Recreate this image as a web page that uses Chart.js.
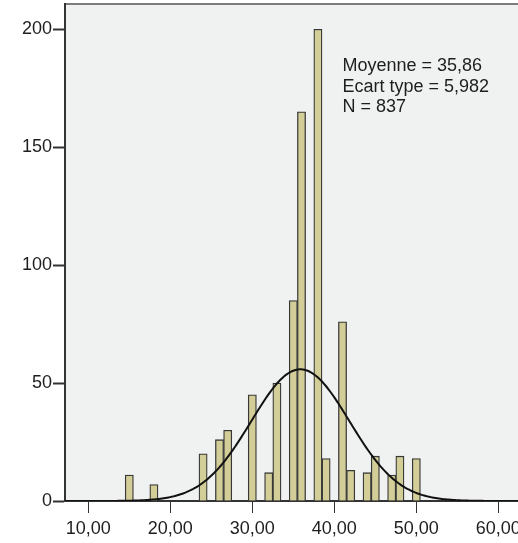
<!DOCTYPE html>
<html>
<head>
<meta charset="utf-8">
<script src="https://cdn.jsdelivr.net/npm/chart.js@4/dist/chart.umd.min.js"></script>
<style>
  html, body { margin: 0; padding: 0; background: #ffffff; }
  #wrap { width: 518px; height: 543px; position: relative; }
</style>
</head>
<body>
<div id="wrap"><canvas id="histo" width="518" height="543"></canvas></div>
<script>
// Histogram classes (centre of each 1-unit class) and their counts
const binCenters  = [15, 18, 24, 26, 27, 30, 32, 33, 35, 36, 38, 39, 41, 42, 44, 45, 47, 48, 50];
const frequencies = [11, 7, 20, 26, 30, 45, 12, 50, 85, 165, 200, 18, 76, 13, 12, 19, 11, 19, 18];

// Axis ticks
const xTicks = [10, 20, 30, 40, 50, 60];
const yTicks = [0, 50, 100, 150, 200];

// Summary statistics shown in the plot and used for the normal curve
const moyenne = 35.86;
const ecartType = 5.982;
const effectif = 837;
const largeurClasse = 1;

const X_MIN = 7.16, X_MAX = 62.4;
const Y_MIN = 0, Y_MAX = 210.7;

const frNum = (v, d) => v.toFixed(d).replace('.', ',');
const statLines = [
  'Moyenne = ' + frNum(moyenne, 2),
  'Ecart type = ' + frNum(ecartType, 3),
  'N = ' + effectif
];

// Normal density scaled to counts, using the stated mean / standard deviation / N
function normalCount(x) {
  const z = (x - moyenne) / ecartType;
  return effectif * largeurClasse / (ecartType * Math.sqrt(2 * Math.PI)) * Math.exp(-0.5 * z * z);
}
const curvePoints = [];
for (let i = 0; i <= 280; i++) {
  const x = X_MIN + (X_MAX - X_MIN) * i / 280;
  curvePoints.push({ x: x, y: normalCount(x) });
}

const FONT = { family: '"Liberation Sans", Arial, sans-serif', size: 18 };
const INK = '#1e1e1e';
const AXIS = '#333333';

// Plot background, top frame line and the statistics box
const plotFrame = {
  id: 'plotFrame',
  beforeDraw(chart) {
    const { ctx, chartArea: a } = chart;
    ctx.save();
    ctx.fillStyle = '#F0F1F1';
    ctx.fillRect(a.left, a.top, a.right - a.left, a.bottom - a.top);
    ctx.strokeStyle = '#7c7c7c';
    ctx.lineWidth = 2;
    ctx.beginPath();
    ctx.moveTo(a.left - 1, a.top);
    ctx.lineTo(a.right, a.top);
    ctx.stroke();
    ctx.restore();
  },
  afterDraw(chart) {
    const { ctx, chartArea: a } = chart;
    ctx.save();
    ctx.fillStyle = INK;
    ctx.font = FONT.size + 'px ' + FONT.family;
    ctx.textAlign = 'left';
    ctx.textBaseline = 'alphabetic';
    const left = a.left + 277.5;
    statLines.forEach((t, i) => ctx.fillText(t, left, a.top + 67 + i * 20.7));
    ctx.restore();
  }
};

new Chart(document.getElementById('histo').getContext('2d'), {
  type: 'bar',
  data: {
    datasets: [
      {
        type: 'line',
        data: curvePoints,
        borderColor: '#111111',
        borderWidth: 2,
        pointRadius: 0,
        tension: 0,
        fill: false,
        order: 0
      },
      {
        type: 'bar',
        data: binCenters.map((x, i) => ({ x: x, y: frequencies[i] })),
        backgroundColor: '#D3CE97',
        borderColor: '#383838',
        borderWidth: 1.3,
        barPercentage: 1,
        categoryPercentage: 1,
        order: 1
      }
    ]
  },
  options: {
    responsive: false,
    animation: false,
    devicePixelRatio: 1,
    layout: { padding: { top: 4, right: 0, left: 0, bottom: 0 } },
    plugins: { legend: { display: false }, tooltip: { enabled: false } },
    scales: {
      x: {
        type: 'linear',
        min: X_MIN,
        max: X_MAX,
        offset: false,
        afterBuildTicks: s => { s.ticks = xTicks.map(v => ({ value: v })); },
        afterFit: s => { s.height = 42; s.paddingLeft = 0; s.paddingRight = 0; },
        ticks: {
          callback: v => frNum(v, 2),
          font: FONT,
          color: INK,
          padding: 5,
          maxRotation: 0,
          autoSkip: false
        },
        grid: { offset: false, drawOnChartArea: false, drawTicks: true, tickLength: 12, tickColor: AXIS, tickWidth: 1 },
        border: { color: AXIS, width: 2 }
      },
      y: {
        min: Y_MIN,
        max: Y_MAX,
        afterBuildTicks: s => { s.ticks = yTicks.map(v => ({ value: v })); },
        afterFit: s => { s.width = 65; s.paddingTop = 0; s.paddingBottom = 0; },
        ticks: {
          font: FONT,
          color: INK,
          padding: 1
        },
        grid: { drawOnChartArea: false, drawTicks: true, tickLength: 12, tickColor: AXIS, tickWidth: 2 },
        border: { color: AXIS, width: 2 }
      }
    }
  },
  plugins: [plotFrame]
});
</script>
</body>
</html>
